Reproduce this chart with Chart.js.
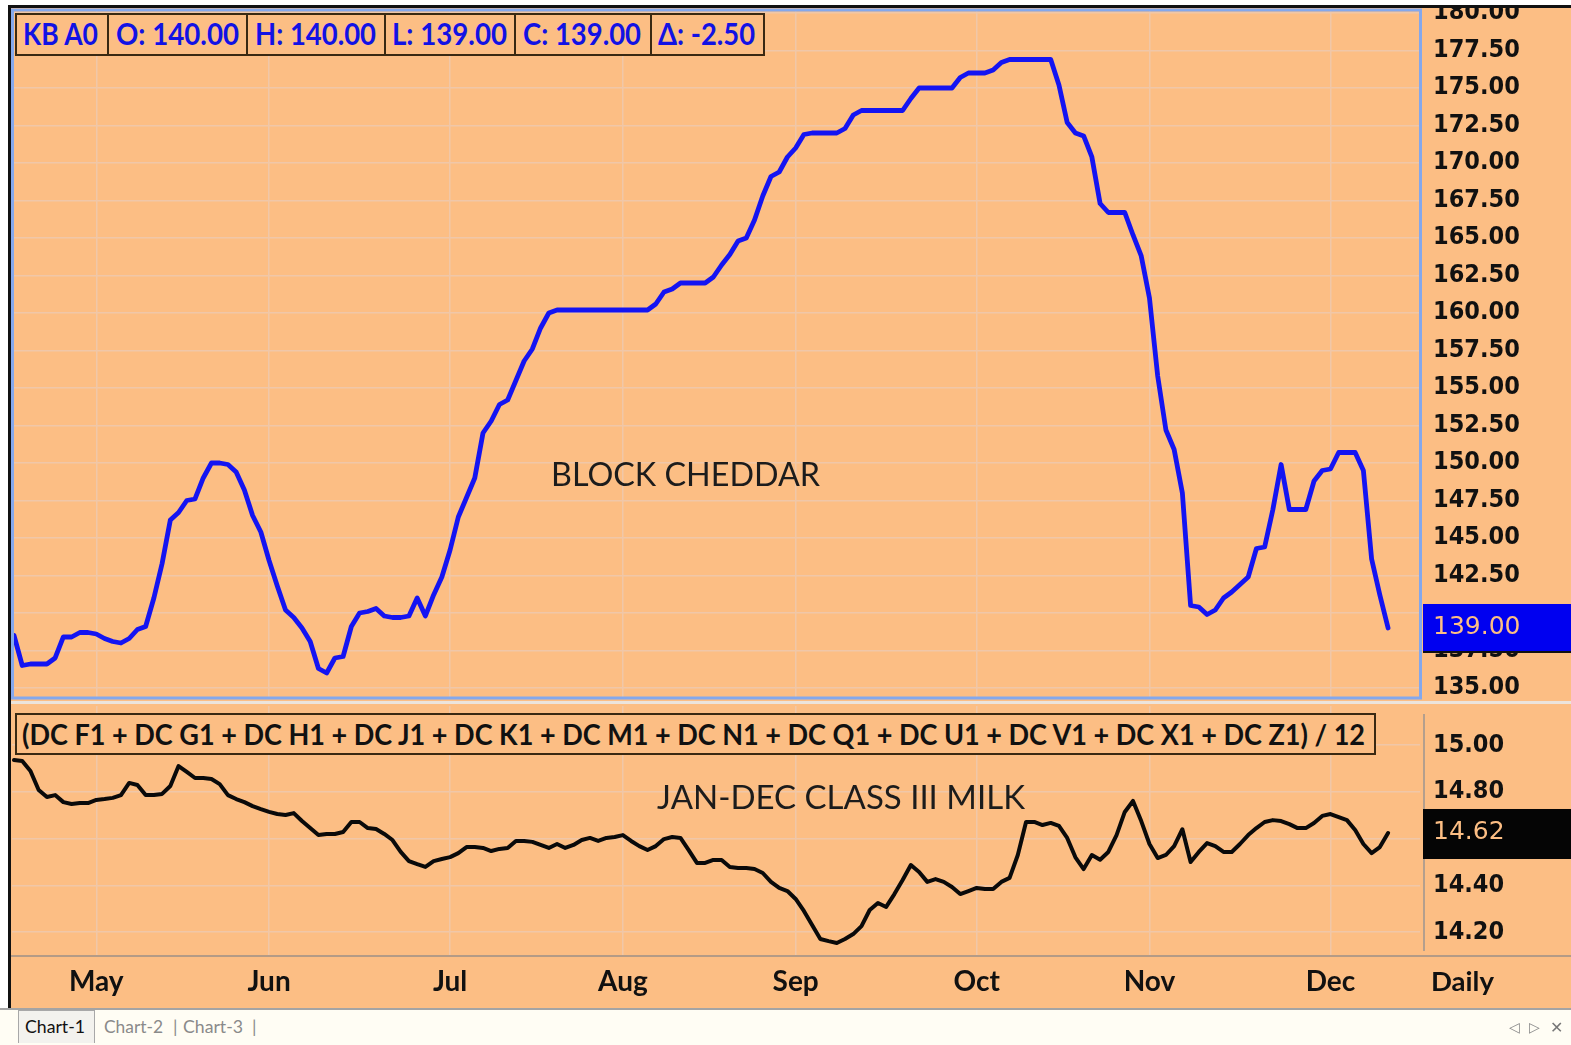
<!DOCTYPE html>
<html><head><meta charset="utf-8">
<script src="https://cdn.jsdelivr.net/npm/chart.js@4.4.0/dist/chart.umd.min.js"></script>
<style>
html,body{margin:0;padding:0;background:#fff;width:1571px;height:1045px;overflow:hidden;position:relative;}
#frame{position:absolute;left:8px;top:5px;width:1563px;height:1003px;background:#FCBE84;border-left:3px solid #111;border-top:3px solid #111;box-sizing:border-box;}
canvas{position:absolute;}
.lbl{position:absolute;white-space:nowrap;display:inline-block;line-height:1;transform-origin:0 50%;font-family:Lato,"DejaVu Sans",sans-serif;}
.cell{position:absolute;box-sizing:border-box;border:2px solid #3A2912;background:#FCBE84;}
#sep{position:absolute;left:11px;top:701px;width:1560px;height:3px;background:#ECE4DC;}
#tabbar{position:absolute;left:0;top:1008px;width:1571px;height:37px;background:#FFFDF4;border-top:2px solid #A4A4A4;box-sizing:border-box;}
#tab1{position:absolute;left:18px;top:1010px;width:77px;height:33px;background:#F3F2EE;border:1px solid #A8A8A8;border-bottom:none;box-sizing:border-box;}
</style></head>
<body>
<div id="frame"></div>
<canvas id="top" width="1560" height="693" style="left:11px;top:8px;width:1560px;height:693px;"></canvas>
<div id="sep"></div>
<canvas id="bot" width="1560" height="302" style="left:11px;top:704px;width:1560px;height:302px;"></canvas>
<div id="tabbar"></div>
<div id="tab1"></div>
<div id="overlay"></div>
<script>
// ---------------- DATA ----------------
const monthNames = ['May','Jun','Jul','Aug','Sep','Oct','Nov','Dec'];
const monthIdx = [10,31,53,74,95,117,138,160];
const cheddarTicks = [135,137.5,140,142.5,145,147.5,150,152.5,155,157.5,160,162.5,165,167.5,170,172.5,175,177.5,180];
const milkTicks = [14.2,14.4,14.6,14.8,15.0];
const cheddar = [
 138.5,136.5,136.6,136.6,136.6,137.0,138.4,138.4,138.7,138.7,
 138.6,138.3,138.1,138.0,138.3,138.9,139.1,141.0,143.3,146.2,
 146.7,147.5,147.6,149.0,150.0,150.0,149.9,149.4,148.2,146.5,
 145.4,143.5,141.8,140.2,139.7,139.0,138.1,136.3,136.0,137.0,
 137.1,139.1,140.0,140.1,140.3,139.8,139.7,139.7,139.8,141.0,
 139.8,141.2,142.4,144.2,146.4,147.7,149.0,152.0,152.8,153.9,
 154.2,155.5,156.8,157.6,159.0,160.0,160.2,160.2,160.2,160.2,
 160.2,160.2,160.2,160.2,160.2,160.2,160.2,160.2,160.6,161.4,
 161.6,162.0,162.0,162.0,162.0,162.4,163.2,163.9,164.8,165.0,
 166.2,167.8,169.1,169.4,170.4,171.0,171.9,172.0,172.0,172.0,
 172.0,172.3,173.2,173.5,173.5,173.5,173.5,173.5,173.5,174.3,
 175.0,175.0,175.0,175.0,175.0,175.7,176.0,176.0,176.0,176.2,
 176.7,176.9,176.9,176.9,176.9,176.9,176.9,175.2,172.7,172.0,
 171.8,170.4,167.3,166.7,166.7,166.7,165.2,163.8,161.0,155.8,
 152.2,150.9,148.0,140.5,140.4,139.9,140.2,141.0,141.4,141.9,
 142.4,144.3,144.4,146.9,149.9,146.9,146.9,146.9,148.8,149.5,
 149.6,150.7,150.7,150.7,149.5,143.6,141.2,139.0];
const milk = [
 14.936,14.932,14.889,14.808,14.778,14.786,14.756,14.748,14.752,14.752,
 14.765,14.769,14.774,14.786,14.838,14.829,14.786,14.786,14.791,14.825,
 14.910,14.885,14.859,14.859,14.855,14.833,14.786,14.769,14.756,14.739,
 14.726,14.714,14.705,14.701,14.709,14.675,14.645,14.615,14.620,14.620,
 14.628,14.671,14.671,14.645,14.641,14.620,14.594,14.543,14.504,14.491,
 14.479,14.504,14.513,14.521,14.538,14.564,14.564,14.560,14.547,14.556,
 14.560,14.590,14.590,14.586,14.573,14.560,14.577,14.560,14.573,14.594,
 14.603,14.590,14.603,14.607,14.615,14.590,14.568,14.551,14.568,14.598,
 14.607,14.603,14.551,14.496,14.496,14.509,14.509,14.479,14.474,14.474,
 14.470,14.453,14.415,14.389,14.376,14.342,14.291,14.231,14.171,14.162,
 14.154,14.171,14.192,14.226,14.295,14.325,14.308,14.363,14.423,14.487,
 14.457,14.415,14.427,14.415,14.393,14.363,14.376,14.389,14.385,14.385,
 14.415,14.432,14.530,14.671,14.671,14.658,14.667,14.654,14.603,14.520,
 14.470,14.530,14.510,14.543,14.615,14.714,14.761,14.675,14.577,14.517,
 14.530,14.568,14.640,14.500,14.543,14.581,14.568,14.543,14.543,14.577,
 14.615,14.645,14.671,14.679,14.675,14.662,14.645,14.645,14.667,14.697,
 14.705,14.692,14.679,14.637,14.577,14.538,14.564,14.624];
const legendItems = ['KB A0','O: 140.00','H: 140.00','L: 139.00','C: 139.00','\u0394: -2.50'];
const formulaText = '(DC F1 + DC G1 + DC H1 + DC J1 + DC K1 + DC M1 + DC N1 + DC Q1 + DC U1 + DC V1 + DC X1 + DC Z1) / 12';
const topTitle = 'BLOCK CHEDDAR';
const botTitle = 'JAN-DEC CLASS III MILK';

// ---------------- STYLE ----------------
const BG = '#FCBE84';
const GRID = '#F0C7A8';
const AXFONT = '"DejaVu Sans Condensed", "DejaVu Sans", sans-serif';
const BOXFONT = '25px "DejaVu Sans", sans-serif';
const X_MIN = -0.243, X_MAX = 170.88;

function xScale(showLabels, h){
  return {
    type:'linear', min:X_MIN, max:X_MAX,
    afterBuildTicks:s=>{ s.ticks = monthIdx.map(v=>({value:v})); },
    ticks:{display:showLabels, autoSkip:false, maxRotation:0, minRotation:0, padding:10,
      color:'#111', font:{family:'Lato, sans-serif', weight:'bold', size:28},
      callback:(v)=>{ const k = monthIdx.indexOf(v); return k>=0 ? monthNames[k] : ''; }},
    grid:{color:GRID, lineWidth:1.5, drawTicks:false},
    border:{display:false},
    afterFit:s=>{ s.height = h; s.paddingLeft = 0; s.paddingRight = 0; s.paddingTop = 0; s.paddingBottom = 0; }
  };
}
// labels hidden behind the last-value box (within hideBand of the last value)
function yScale(min,max,ticks,w,pad,lastVal,hideBand){
  return {
    position:'right', min:min, max:max,
    afterBuildTicks:s=>{ s.ticks = ticks.map(v=>({value:v})); },
    ticks:{autoSkip:false, padding:pad, color:'#111',
      font:{family:AXFONT, weight:'bold', size:25},
      callback:v=> Math.abs(v-lastVal) < hideBand ? '' : Number(v).toFixed(2)},
    grid:{color:GRID, lineWidth:1.5, drawTicks:false},
    border:{display:false},
    afterFit:s=>{ s.width = w; s.paddingTop = 0; s.paddingBottom = 0; s.paddingLeft = 0; s.paddingRight = 0; }
  };
}

const topDeco = {
  id:'topDeco',
  afterDraw(chart){
    const {ctx, chartArea:a, scales:{y}} = chart;
    ctx.save();
    ctx.strokeStyle = '#84A8EC'; ctx.lineWidth = 3;
    ctx.strokeRect(a.left+0.5, a.top, a.right-a.left, a.bottom-a.top);
    const last = cheddar[cheddar.length-1];
    const py = y.getPixelForValue(last);
    ctx.fillStyle = '#0000F0';
    ctx.fillRect(a.right+3, py-24, chart.width-a.right-3, 48);
    ctx.fillStyle = '#111';
    ctx.fillRect(a.right+3, py+23, chart.width-a.right-3, 2);
    ctx.fillStyle = BG; ctx.font = BOXFONT;
    ctx.textBaseline = 'middle'; ctx.textAlign = 'left';
    ctx.fillText(last.toFixed(2), a.right+13, py);
    ctx.restore();
  }
};
const botDeco = {
  id:'botDeco',
  afterDraw(chart){
    const {ctx, chartArea:a, scales:{y}} = chart;
    ctx.save();
    ctx.strokeStyle = '#9C9490'; ctx.lineWidth = 1.5;
    ctx.beginPath(); ctx.moveTo(a.right+4, a.top+8); ctx.lineTo(a.right+4, a.bottom-4); ctx.stroke();
    ctx.strokeStyle = 'rgba(150,140,135,0.7)'; ctx.lineWidth = 2;
    ctx.beginPath(); ctx.moveTo(0, a.bottom+1); ctx.lineTo(chart.width, a.bottom+1); ctx.stroke();
    const last = milk[milk.length-1];
    const py = y.getPixelForValue(last);
    ctx.fillStyle = '#050505';
    ctx.fillRect(a.right+3, py-24, chart.width-a.right-3, 50);
    ctx.fillStyle = BG; ctx.font = BOXFONT;
    ctx.textBaseline = 'middle'; ctx.textAlign = 'left';
    ctx.fillText(last.toFixed(2), a.right+13, py);
    ctx.restore();
  }
};

Chart.defaults.animation = false;
new Chart(document.getElementById('top'), {
  type:'line',
  data:{datasets:[{data:cheddar.map((v,i)=>({x:i,y:v})), borderColor:'#1414F2', borderWidth:4.8,
    pointRadius:0, tension:0, borderJoinStyle:'round', borderCapStyle:'round'}]},
  options:{responsive:false, animation:false, events:[],
    layout:{padding:{left:1, top:2, right:0, bottom:3}},
    plugins:{legend:{display:false}, tooltip:{enabled:false}},
    scales:{x:xScale(false,0), y:yScale(134.333,180.2,cheddarTicks,151,13,cheddar[cheddar.length-1],1.2)}},
  plugins:[topDeco]
});
new Chart(document.getElementById('bot'), {
  type:'line',
  data:{datasets:[{data:milk.map((v,i)=>({x:i,y:v})), borderColor:'#0A0A0A', borderWidth:4,
    pointRadius:0, tension:0, borderJoinStyle:'round', borderCapStyle:'round'}]},
  options:{responsive:false, animation:false, events:[],
    layout:{padding:{left:1, top:2, right:0, bottom:0}},
    plugins:{legend:{display:false}, tooltip:{enabled:false}},
    scales:{x:xScale(true,51), y:yScale(14.1026,15.1667,milkTicks,151,13,milk[milk.length-1],0.1)}},
  plugins:[botDeco]
});

// ---------------- HTML TEXT ----------------
const ov = document.getElementById('overlay');
function cell(l,t,w,h){ const d=document.createElement('div'); d.className='cell';
  Object.assign(d.style,{left:l+'px',top:t+'px',width:w+'px',height:h+'px'}); ov.appendChild(d); }
function label(text,left,cy,size,weight,color,target){
  const s=document.createElement('span'); s.className='lbl'; s.textContent=text;
  Object.assign(s.style,{left:left+'px',top:(cy-0.53*size)+'px',fontSize:size+'px',fontWeight:weight,color:color});
  ov.appendChild(s);
  if(target){ const w=s.getBoundingClientRect().width; s.style.transform='scaleX('+(target/w)+')'; }
  return s;
}
const cellEdges = [15,107,246,384,514,650,763];
const cellText = [[23,75],[116,123],[255,121],[392,115],[523,118],[658,97]];
for(let i=0;i<6;i++){
  cell(cellEdges[i], 13, cellEdges[i+1]-cellEdges[i]+2, 43);
}
for(let i=0;i<6;i++){
  label(legendItems[i], cellText[i][0], 34, 31, 'bold', '#1212E4', cellText[i][1]);
}
label(topTitle, 551, 475, 32, 'normal', '#1C1C1C', 269);
cell(15, 713, 1361, 42);
label(formulaText, 22, 735, 28, 'bold', '#111', 1343);
label(botTitle, 657, 798, 32, 'normal', '#1C1C1C', 368);
label('Daily', 1431, 981, 27, 'bold', '#111', 63);
label('Chart-1', 25, 1027, 18, 'normal', '#111', 60);
label('Chart-2', 104, 1027, 18, 'normal', '#8A8A8A', 59);
label('|', 173, 1027, 18, 'normal', '#8A8A8A');
label('Chart-3', 183, 1027, 18, 'normal', '#8A8A8A', 60);
label('|', 252, 1027, 18, 'normal', '#8A8A8A');
label('\u25C1', 1509, 1027, 14, 'normal', '#8A8A8A');
label('\u25B7', 1529, 1027, 14, 'normal', '#8A8A8A');
label('\u2715', 1550, 1027, 16, 'normal', '#777');
</script>
</body></html>
